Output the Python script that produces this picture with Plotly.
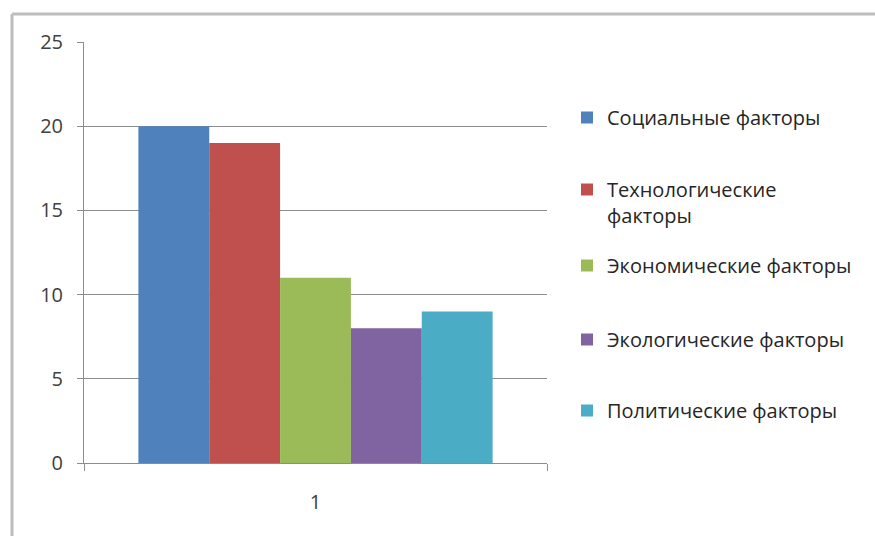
import plotly.graph_objects as go

# Chart data
categories = ["1"]
series_names = [
    "Социальные факторы",
    "Технологические<br>факторы",
    "Экономические факторы",
    "Экологические факторы",
    "Политические факторы",
]
series_values = [20, 19, 11, 8, 9]
series_colors = ["#4F81BD", "#C0504D", "#9BBB59", "#8064A2", "#4BACC6"]
y_ticks = [0, 5, 10, 15, 20, 25]

W, H = 875, 536
ML, MR, MT, MB = 84, 328, 42, 73
PW, PH = W - ML - MR, H - MT - MB


def px_x(px):
    return (px - ML) / PW


def px_y(py):
    return (H - MB - py) / PH


FONT = "Open Sans, Liberation Sans, sans-serif"
GRID = "#8c8c8c"

# Top of each legend entry (pixel rows)
legend_tops = [98, 170, 246, 320, 391]

fig = go.Figure()
for i, (name, val, col) in enumerate(zip(series_names, series_values, series_colors)):
    lg = "legend" if i == 0 else f"legend{i + 1}"
    fig.add_trace(go.Bar(
        x=categories, y=[val], name=name,
        marker=dict(color=col, line=dict(width=0)),
        legend=lg,
    ))

layout_legends = {}
for i, top in enumerate(legend_tops):
    key = "legend" if i == 0 else f"legend{i + 1}"
    layout_legends[key] = dict(
        x=px_x(567), y=px_y(top), xanchor="left", yanchor="top",
        xref="paper", yref="paper",
        font=dict(family=FONT, size=20, color="#262626"),
        bgcolor="rgba(0,0,0,0)", valign="top",
        itemclick=False, itemdoubleclick=False,
    )

fig.update_layout(
    width=W, height=H,
    margin=dict(l=ML, r=MR, t=MT, b=MB, pad=0),
    paper_bgcolor="white", plot_bgcolor="white",
    barmode="group", bargap=0.235, bargroupgap=0,
    showlegend=True,
    **layout_legends,
    xaxis=dict(
        type="category", range=[-0.5, 0.5],
        showline=True, linecolor=GRID, linewidth=1,
        ticks="outside", tickson="boundaries", ticklen=7, tickcolor=GRID,
        showgrid=False, zeroline=False,
        tickfont=dict(family=FONT, size=20, color="#404040"),
        ticklabelstandoff=21,
    ),
    yaxis=dict(
        range=[0, 25], tickvals=y_ticks,
        showline=True, linecolor=GRID, linewidth=1,
        ticks="outside", ticklen=6, tickcolor=GRID,
        showgrid=True, gridcolor=GRID, gridwidth=1, zeroline=False,
        tickfont=dict(family=FONT, size=20, color="#404040"),
        ticklabelstandoff=10,
    ),
    shapes=[
        # chart frame (left and top edges)
        dict(type="line", xref="paper", yref="paper",
             x0=px_x(12), x1=px_x(880), y0=px_y(14), y1=px_y(14),
             line=dict(color="#bdbdbd", width=3)),
        dict(type="line", xref="paper", yref="paper",
             x0=px_x(12), x1=px_x(12), y0=px_y(14), y1=px_y(540),
             line=dict(color="#bdbdbd", width=3)),
    ],
)

fig.write_html("out.html")
